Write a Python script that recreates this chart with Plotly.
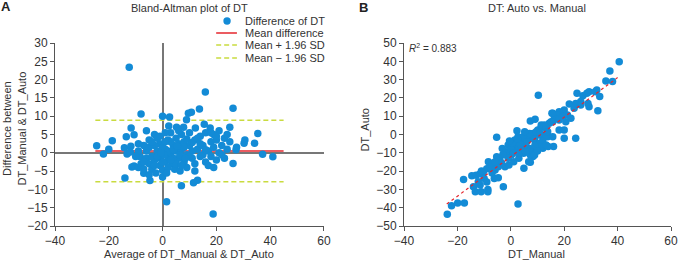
import plotly.graph_objects as go

# ---------------- Data: Bland-Altman (panel A) ----------------
ba_avg = [
    -24.5, -22, -20, -18.7, -12.4, -14.2, -13.5, -13.2, -14, -11.7,
    -10.6, -11.8, -11.4, -10.6, -9, -8.3, -8, -7, -4.7, 0,
    1.5, 7, 11.5, 13, 18.8, 26.2, 27.3, 27.5, 34.2, 35.4,
    37.2, 41, 30.6, 30.3, 0, 2.6, 8.9, 9.6, 10.7, 13.7,
    15.9, 26.2, 2.3, 5.2, 7.8, 12.2, 15.5, 17.7, 25, -6,
    -3, -5, -7, -9, -6, -5, -4, -3, -2, -1,
    -2, -1, -2.5, 0, 1, 1, 2, 2, 3, 3,
    3.5, 4, 4.5, 5, 5, 6, 6, 6.5, 7, 7,
    8, 8, 9, 9, 10, 10, 11, 11, 12, 12,
    13, 14, 14, 15, 16, 16, 17, 18, 18, 19,
    19, 20, 20, 21, 21, 22, 23, 23, 24, 25,
    -8, -7, -6, -5, -4, -3, -4, -1, 0, -1,
    0, 1, 2, 1.5, 4, 5, 3, 6, 7, 8,
    9, 10, 11, 12, 13, 14, 15, 17, 18, 19,
    20, 22, 24, -10, -9, -12, -7, -5, -2, 2,
    4, 5.5, 6.5, 8.5, 0.5, -0.5, 3, -3, 1, 16,
]
ba_diff = [
    1.9, -0.3, 1.0, 3.3, 23.4, 1.4, 4.4, -0.3, -6.9, 6.8,
    4.9, 1.8, -3.9, -3.6, -4.0, -1.1, 10.6, -5.6, -7.6, -6.6,
    -13.4, -9.0, -8.2, -7.5, -16.7, -2.9, 0.8, 1.5, 2.6, 5.3,
    -0.4, -1.1, 3.5, 2.6, 10.0, 9.8, 9.0, 10.8, 11.1, 12.0,
    16.6, 12.2, 7.3, 7.0, 7.0, 6.8, 7.8, 6.8, 7.0, 6.0,
    5.0, 3.5, 2.0, 0.5, -1.5, -3.0, -4.5, -2.0, 0.5, 2.5,
    4.0, -3.5, -5.5, -4.8, -2.5, 1.0, 3.5, -1.0, 5.5, 0.0,
    -3.0, 2.0, -4.5, 0.5, 4.0, -1.5, 2.5, -5.0, 1.0, 5.0,
    -2.5, 3.0, -0.5, -4.0, 2.0, 5.5, -1.5, 0.5, 3.5, -3.0,
    1.0, -1.0, 4.5, 2.0, -2.5, 5.5, 0.5, 3.0, -1.0, 5.0,
    1.5, -2.0, 3.5, 0.0, 6.0, 2.0, -1.5, 4.0, 1.0, 3.0,
    -3.0, -4.5, 0.5, 1.5, -1.0, 2.0, 3.0, -1.5, 1.5, 4.5,
    -2.5, 5.5, -4.0, -5.5, -1.5, -3.0, 3.0, 6.0, -3.5, 1.5,
    3.8, -1.0, 2.8, -5.0, 4.0, 2.5, -0.5, -3.5, 5.5, -4.0,
    4.5, -0.5, 5.0, -1.0, 2.5, 0.2, -2.5, -6.0, -1.0, 0.5,
    0.8, 1.8, -0.5, -1.5, -0.5, 0.0, -2.0, -3.5, 3.0, 0.8,
]
mean_diff = 0.5
upper_loa = 8.9
lower_loa = -7.9
loa_x = [-25, 45]

# ---------------- Data: Auto vs Manual (panel B) ----------------
dt_manual = [
    40.6, 37.1, 35.6, 38.1, 10.3, 24.8, 27, 28.5, 29.3, 31.6,
    32.2, 33.3, 32.6, 29.3, 28.9, 26.2, 24.3, 26.2, 21.9, 23.7,
    20, 18.1, 15.7, 17.5, 19.4, 21.2, 16.3, 18.1, 20.6, 22.5,
    14.4, 12.6, 11.4, 10.1, 13.2, 15.7, 8.9, 11.4, 13.8, 18.1,
    20, 15.7, 24.3, 20, 16, 14, 12, 8.3, 7.3, 4.9,
    -23.8, -22.2, -19.9, -17.4, 2.7, -17.7, -14.6, -13, -11.5, -10.3,
    -9, -7.8, -14, -13.3, -11.1, -8.6, -8.6, -11.5, -2.8, -6.2,
    -4.7, -8.4, -7.1, -5.3, -4.1, -3.4, -2.2, -5.9, -4.7, -0.7,
    1.1, 3, 6.7, 7.3, 4.8, 2.3, 1.1, 0.2, -1.6, -3.2,
    -1, 4, 5.2, 7, 8.9, 10.7, 12, 13.2, 10.1, 8.3,
    6.4, 2.7, 1.5, 8.3, 8.9, 7, 11.4, 13.2, -5.3, 2.3,
    7.3, 9.1, 11.4, 13.2, 15.4, 15.1, 13.8, 8.9, 7, 4.6,
    5.2, -2, 0, 2, 3, 5, 6, -1, 1, 3,
    5, -6, -3, 9, 10, 6, -10, -12.2, -7, -9,
    -11, 0.5, 3.5, -0.5, 5.5, 9.5, 11, 2.5,
]
dt_auto = [
    39.8, 34.7, 29.2, 28.9, 21.5, 22.5, 21.2, 22.5, 23.4, 23.4,
    24.3, 20.7, 13, 15.2, 17, 18, 17, 16.1, 16.7, 14.4,
    13.4, 12.5, 11.6, 10.7, 9.8, 10.7, 8.9, 7.9, 7.0, 8.9,
    6.1, 5.2, 4.3, 2.5, 3.4, 7.0, -0.3, -0.3, -1.2, 2.5,
    2.5, -1.2, -2.1, -2.1, -6.5, -6.5, -7.5, -12, -15.2, -18.5,
    -43.6, -39, -37.4, -37.4, -38, -24.6, -22.6, -22.3, -21.4, -20.5,
    -18.7, -17.8, -28.5, -31.3, -31.3, -30, -31.3, -27.6, -28.5, -24,
    -23.6, -14.9, -16.7, -12.1, -13.9, -15.7, -17.6, -19.4, -17.6, -16.7,
    -14.9, -13, -14.9, -11.2, -10.3, -8.5, -6.7, -11.2, -9.4, -7.6,
    -5.7, -4.8, -3, -2.1, -3, -4.8, -3, -0.3, -0.3, 0.6,
    -0.3, -1.2, -3, -9.4, -11.2, -7.6, -6.7, -5.7, -1.5, 2.1,
    7.4, 8.3, 5.2, 4.3, 11.6, 7, 1.5, -1.2, 0.6, -1.2,
    1.5, -10, -8, -5, -7, -6, -9, -13, -10, -10,
    -8, -15, -11, -6, -9, -4, -24, -25.8, -21, -26,
    -20, -4.5, -5.5, -3.5, -9.5, 1.5, 0.8, -2.5,
]
fit_slope = 1.08
fit_intercept = -12.1
fit_x = [-24, 40]
r_squared = 0.883

# ---------------- Style ----------------
FONT = "Liberation Sans, Arial, sans-serif"
BLUE = "#138bd6"
RED = "#e5262d"
YG = "#c9db3f"
AX = "#555555"
TXT = "#333333"
DASH = "5px,3px"

W, H = 686, 261
ML, MR, MT, MB = 55, 8, 43, 35
PW = W - ML - MR
PH = H - MT - MB


def px(xp):
    return (xp - ML) / PW


def py(yp):
    return (H - MB - yp) / PH


fig = go.Figure()

# Panel A lines
fig.add_trace(go.Scatter(x=loa_x, y=[upper_loa, upper_loa], mode="lines",
                         line=dict(color=YG, width=1.5, dash=DASH),
                         xaxis="x", yaxis="y", showlegend=False, hoverinfo="skip"))
fig.add_trace(go.Scatter(x=loa_x, y=[lower_loa, lower_loa], mode="lines",
                         line=dict(color=YG, width=1.5, dash=DASH),
                         xaxis="x", yaxis="y", showlegend=False, hoverinfo="skip"))
fig.add_trace(go.Scatter(x=loa_x, y=[mean_diff, mean_diff], mode="lines",
                         line=dict(color=RED, width=1.5),
                         xaxis="x", yaxis="y", showlegend=False, hoverinfo="skip"))
fig.add_trace(go.Scatter(x=ba_avg, y=ba_diff, mode="markers",
                         marker=dict(color=BLUE, size=7.5, line=dict(width=0)),
                         xaxis="x", yaxis="y", showlegend=False))

# Panel B
fig.add_trace(go.Scatter(x=dt_manual, y=dt_auto, mode="markers",
                         marker=dict(color=BLUE, size=7.5, line=dict(width=0)),
                         xaxis="x2", yaxis="y2", showlegend=False))
fig.add_trace(go.Scatter(x=fit_x, y=[fit_slope * v + fit_intercept for v in fit_x],
                         mode="lines", line=dict(color=RED, width=1.2, dash="dot"),
                         xaxis="x2", yaxis="y2", showlegend=False, hoverinfo="skip"))

axis_common = dict(showgrid=False, showline=True, linecolor=AX, linewidth=1,
                   ticks="outside", ticklen=4, tickcolor=AX, tickwidth=1,
                   tickfont=dict(family=FONT, size=12, color=TXT))

fig.update_layout(
    width=W, height=H,
    margin=dict(l=ML, r=MR, t=MT, b=MB),
    paper_bgcolor="white", plot_bgcolor="white",
    font=dict(family=FONT, size=11, color=TXT),
    showlegend=False,
    xaxis=dict(domain=[0, px(327)], range=[-40, 60], dtick=20, anchor="y",
               zeroline=True, zerolinecolor="#777777", zerolinewidth=1.5,
               **axis_common),
    yaxis=dict(domain=[0, 1], range=[-20, 30], dtick=5, anchor="x",
               zeroline=True, zerolinecolor="#777777", zerolinewidth=1.5,
               **axis_common),
    xaxis2=dict(domain=[px(408), 1], range=[-40, 60], dtick=20, anchor="y2",
                zeroline=False, **axis_common),
    yaxis2=dict(domain=[0, 1], range=[-50, 50], dtick=10, anchor="x2",
                zeroline=False, **axis_common),
)

TF = dict(size=11, color=TXT)
ann = []
# Panel labels and titles
ann.append(dict(text="<b>A</b>", x=px(5), y=py(6), xref="paper", yref="paper",
                showarrow=False, font=dict(size=13, color="#222"), xanchor="center", yanchor="middle"))
ann.append(dict(text="<b>B</b>", x=px(367), y=py(7), xref="paper", yref="paper",
                showarrow=False, font=dict(size=13, color="#222"), xanchor="center", yanchor="middle"))
ann.append(dict(text="Bland-Altman plot of DT", x=px(191), y=py(8), xref="paper", yref="paper",
                showarrow=False, font=TF, xanchor="center", yanchor="middle"))
ann.append(dict(text="DT: Auto vs. Manual", x=px(542), y=py(8), xref="paper", yref="paper",
                showarrow=False, font=TF, xanchor="center", yanchor="middle"))
# Axis titles
ann.append(dict(text="Average of DT_Manual & DT_Auto", x=px(191), y=py(254), xref="paper", yref="paper",
                showarrow=False, font=TF, xanchor="center", yanchor="middle"))
ann.append(dict(text="DT_Manual", x=px(542), y=py(254), xref="paper", yref="paper",
                showarrow=False, font=TF, xanchor="center", yanchor="middle"))
ann.append(dict(text="Difference between<br>DT_Manual & DT_Auto", x=px(14), y=py(128),
                xref="paper", yref="paper", textangle=-90,
                showarrow=False, font=TF, xanchor="center", yanchor="middle"))
ann.append(dict(text="DT_Auto", x=px(369), y=py(130), xref="paper", yref="paper", textangle=-90,
                showarrow=False, font=TF, xanchor="center", yanchor="middle"))
# R^2
ann.append(dict(text="<i>R</i><sup>2</sup> = %.3f" % r_squared, x=px(411), y=py(48),
                xref="paper", yref="paper", showarrow=False,
                font=dict(size=10, color=TXT), xanchor="left", yanchor="middle"))

# Manual legend for panel A
legend_items = ["Difference of DT", "Mean difference", "Mean + 1.96 SD", "Mean \u2212 1.96 SD"]
legend_y = [21, 33, 45, 58]
for label, yy in zip(legend_items, legend_y):
    ann.append(dict(text=label, x=px(245), y=py(yy), xref="paper", yref="paper",
                    showarrow=False, font=TF, xanchor="left", yanchor="middle"))

shapes = [
    dict(type="circle", xref="paper", yref="paper", xsizemode="pixel", ysizemode="pixel",
         xanchor=px(229), yanchor=py(21), x0=-3.7, x1=3.7, y0=-3.7, y1=3.7,
         fillcolor=BLUE, line=dict(width=0)),
    dict(type="line", xref="paper", yref="paper", x0=px(218), x1=px(239), y0=py(33), y1=py(33),
         line=dict(color=RED, width=1.5)),
    dict(type="line", xref="paper", yref="paper", x0=px(218), x1=px(239), y0=py(45), y1=py(45),
         line=dict(color=YG, width=1.5, dash=DASH)),
    dict(type="line", xref="paper", yref="paper", x0=px(218), x1=px(239), y0=py(58), y1=py(58),
         line=dict(color=YG, width=1.5, dash=DASH)),
]

fig.update_layout(annotations=ann, shapes=shapes)

fig.write_html("out.html", config={"displayModeBar": False},
               post_script="document.body.style.margin='0';document.body.style.overflow='hidden';")
